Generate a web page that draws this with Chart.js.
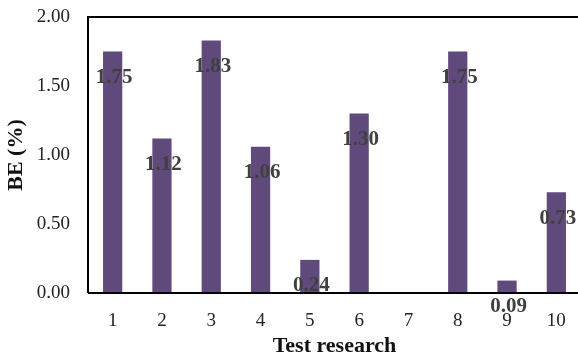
<!DOCTYPE html>
<html><head><meta charset="utf-8">
<script src="https://cdn.jsdelivr.net/npm/chart.js@4/dist/chart.umd.min.js"></script>
<style>html,body{margin:0;padding:0;overflow:hidden;background:#fff}#wrap{width:600px;height:360px}</style>
</head><body><div id="wrap"><canvas id="c"></canvas></div>
<script>
const categories = ['1','2','3','4','5','6','7','8','9','10'];
const beValues = [1.75, 1.12, 1.83, 1.06, 0.24, 1.30, 0, 1.75, 0.09, 0.73];
const yTicks = [0, 0.5, 1.0, 1.5, 2.0];

const serif = "'Liberation Serif', 'Times New Roman', serif";

const framePlugin = {
  id: 'frame',
  afterDatasetsDraw(chart) {
    const {ctx, chartArea: a} = chart;
    ctx.save();
    ctx.strokeStyle = '#000';
    ctx.lineWidth = 2;
    ctx.beginPath();
    ctx.moveTo(a.left, a.bottom); ctx.lineTo(a.left, a.top); ctx.lineTo(a.right, a.top);
    ctx.moveTo(a.left, a.bottom); ctx.lineTo(a.right, a.bottom);
    ctx.stroke();
    ctx.restore();
  }
};
const labelPlugin = {
  id: 'vlabels',
  afterDatasetsDraw(chart) {
    const {ctx} = chart;
    const meta = chart.getDatasetMeta(0);
    ctx.save();
    ctx.font = "bold 21px " + serif;
    ctx.fillStyle = '#404040';
    ctx.textAlign = 'center';
    ctx.textBaseline = 'middle';
    meta.data.forEach((bar, i) => {
      const v = beValues[i];
      if (!v) return;
      ctx.fillText(v.toFixed(2), bar.x + 1.5, bar.y + 26);
    });
    ctx.restore();
  }
};

new Chart(document.getElementById('c'), {
  type: 'bar',
  data: { labels: categories, datasets: [{ data: beValues, backgroundColor: '#5f4a7b', borderWidth: 0, categoryPercentage: 1, barPercentage: 0.39 }] },
  options: {
    responsive: true, maintainAspectRatio: false, animation: false,
    layout: { padding: { top: 17, right: 19, left: 0, bottom: 0 } },
    plugins: { legend: { display: false }, tooltip: { enabled: false } },
    scales: {
      x: {
        grid: { display: false, drawTicks: false },
        border: { display: false },
        ticks: { color: '#222', font: { family: serif, size: 19 }, padding: 17 },
        title: { display: true, text: 'Test research', color: '#111', font: { family: serif, size: 22, weight: 'bold' }, padding: { top: 0, bottom: 0 } },
        afterFit(s) { s.height = 67; s.paddingLeft = 0; s.paddingRight = 0; }
      },
      y: {
        min: 0, max: 2,
        afterBuildTicks(s) { s.ticks = yTicks.map(v => ({ value: v })); },
        grid: { display: false, drawTicks: false },
        border: { display: false },
        ticks: { color: '#222', font: { family: serif, size: 19 }, padding: 18, callback: v => Number(v).toFixed(2) },
        title: { display: true, text: 'BE (%)', color: '#111', font: { family: serif, size: 22, weight: 'bold' }, padding: { top: 3, bottom: 0 } },
        afterFit(s) { s.width = 88; s.paddingTop = 0; s.paddingBottom = 0; }
      }
    }
  },
  plugins: [framePlugin, labelPlugin]
});
</script></body></html>
